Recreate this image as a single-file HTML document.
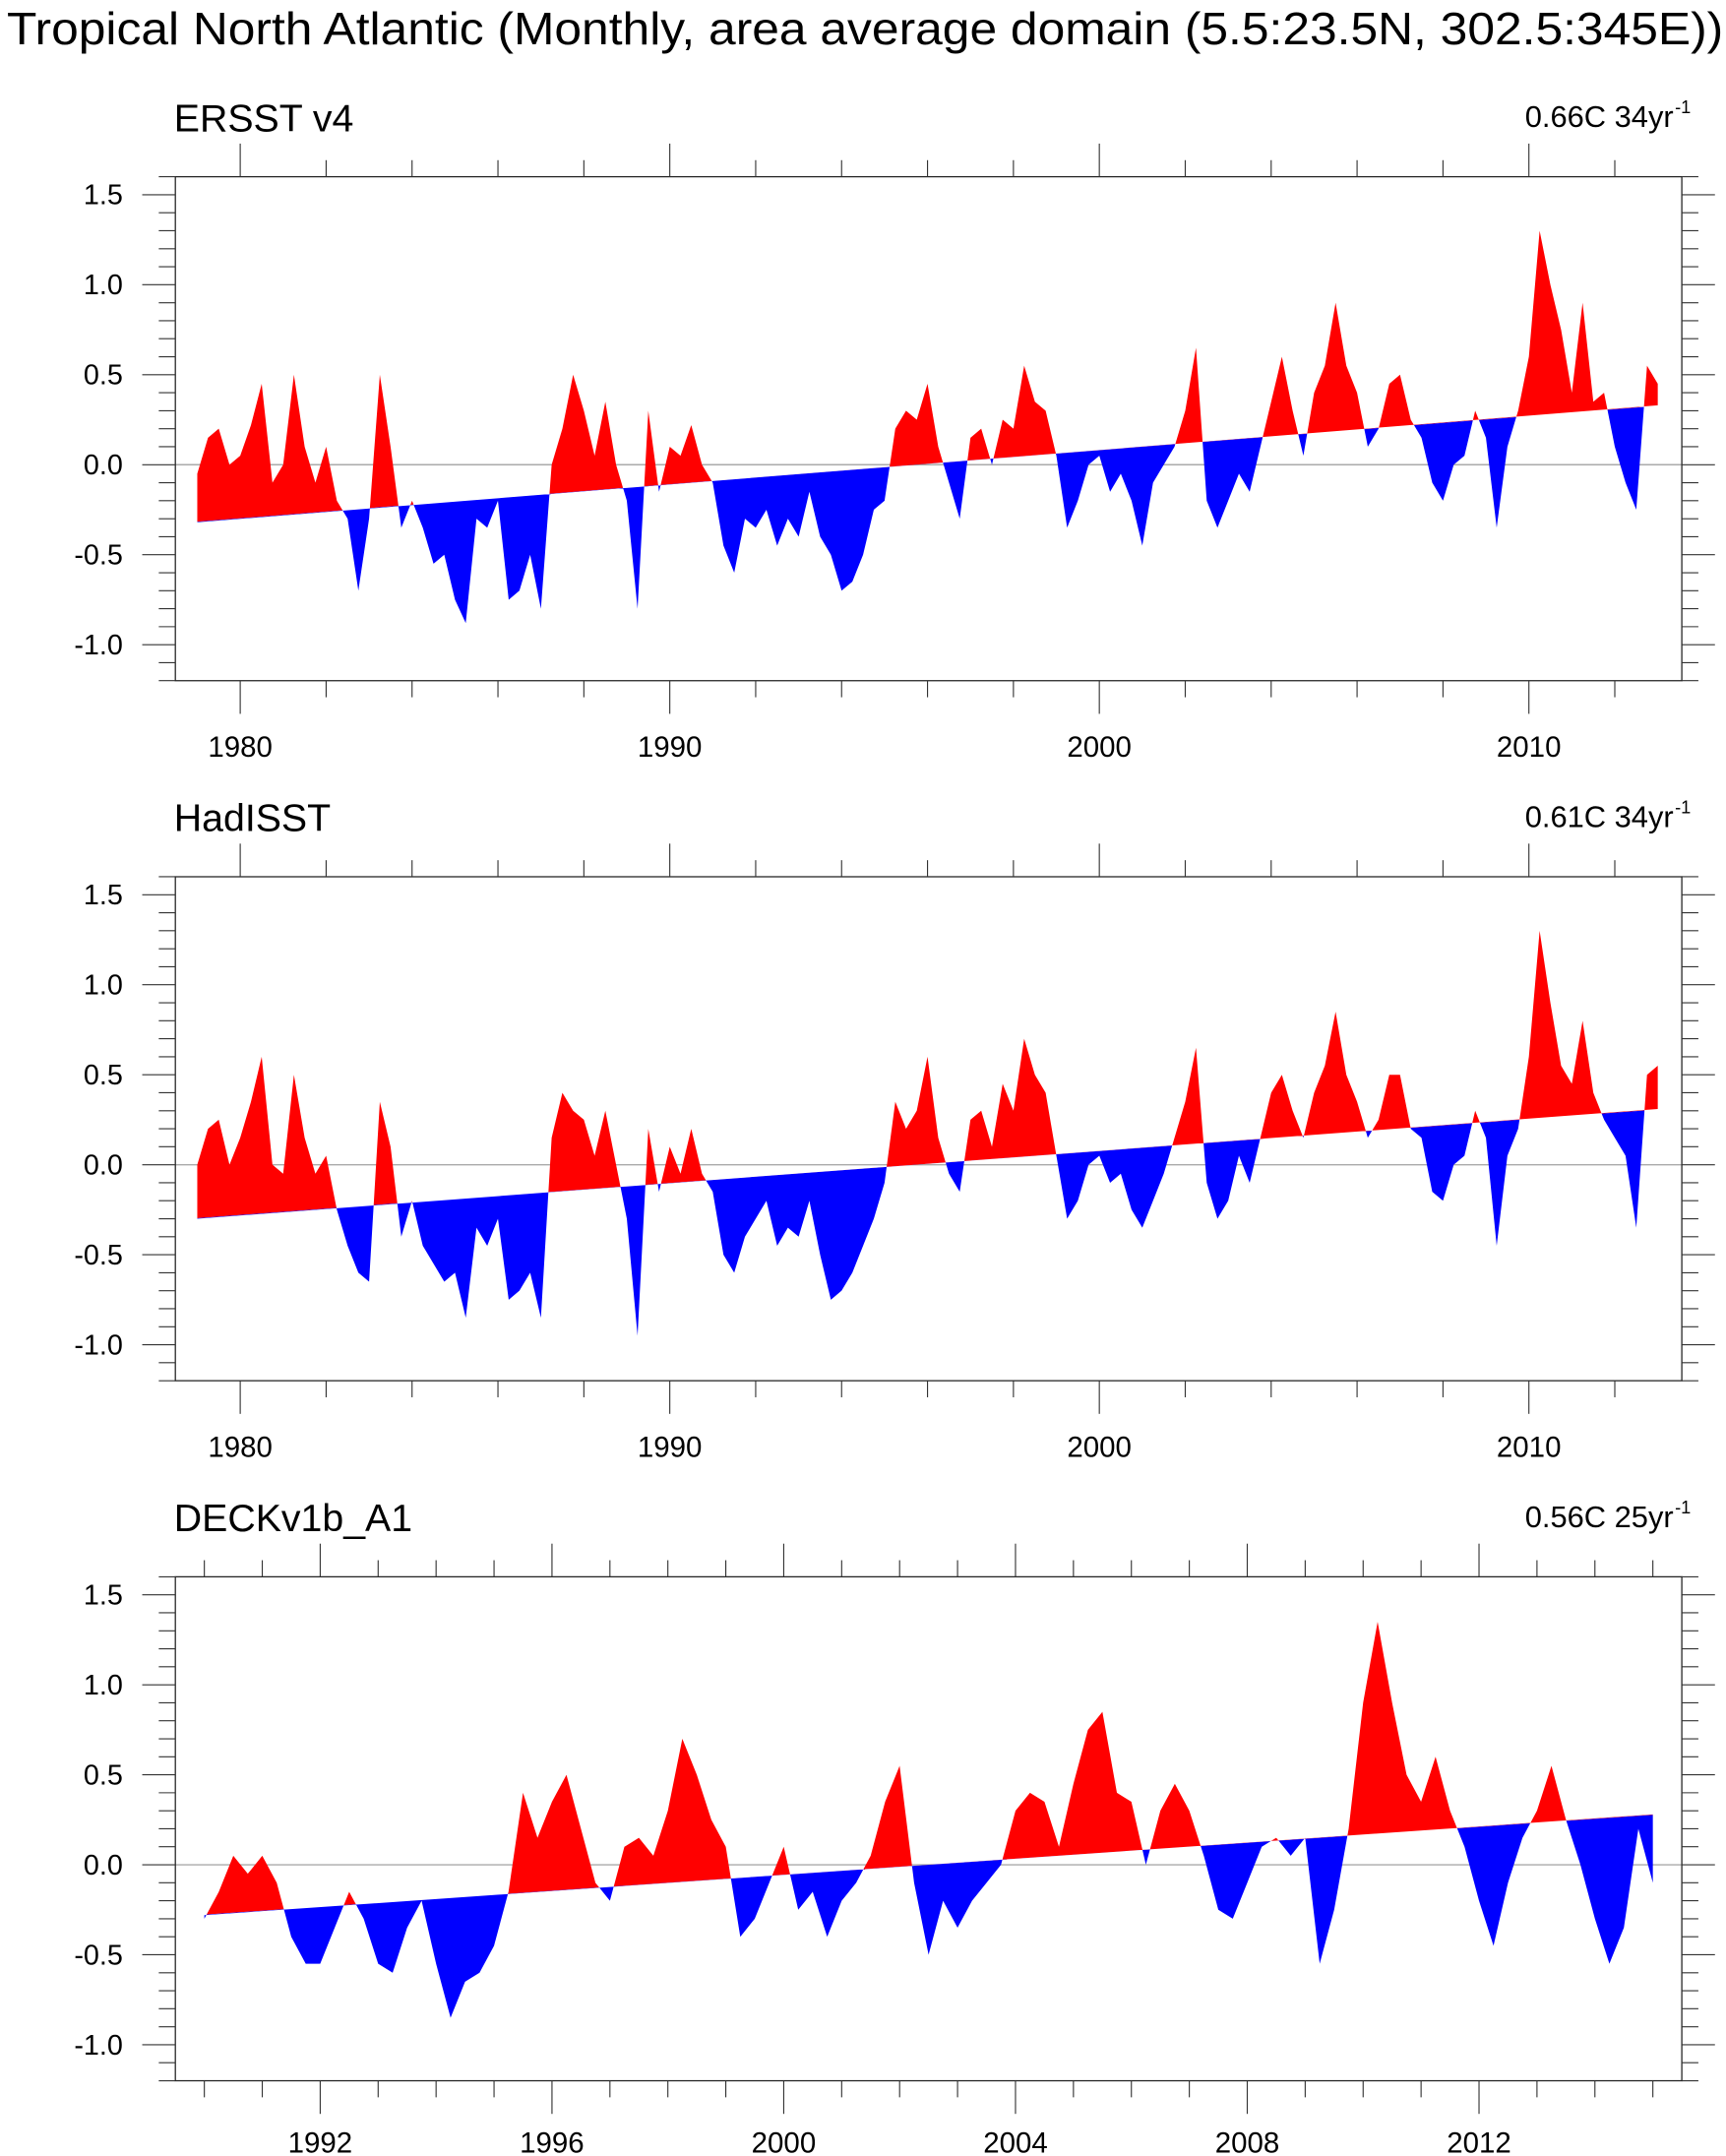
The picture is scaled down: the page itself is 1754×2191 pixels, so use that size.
<!DOCTYPE html>
<html><head><meta charset="utf-8"><style>
html,body{margin:0;padding:0;background:#fff}
svg{display:block}
text{font-family:"Liberation Sans",sans-serif;fill:#000}
</style></head><body>
<svg id="chart" width="1754" height="2191" viewBox="0 0 1250 1561.5" preserveAspectRatio="none" xmlns="http://www.w3.org/2000/svg">
<text x="5" y="32" font-size="33" textLength="1243" lengthAdjust="spacingAndGlyphs">Tropical North Atlantic (Monthly, area average domain (5.5:23.5N, 302.5:345E))</text>
</svg>
<script>
// ---- data (quarterly estimates) ----
const ersstStart = 1979;
const ersstValues = [
-0.05,0.15,0.2,0.0, 0.05,0.22,0.45,-0.1, 0.0,0.5,0.1,-0.1, 0.1,-0.2,-0.3,-0.7,
-0.3,0.5,0.1,-0.35, -0.2,-0.35,-0.55,-0.5, -0.75,-0.88,-0.3,-0.35, -0.2,-0.75,-0.7,-0.5,
-0.8,0.0,0.2,0.5, 0.3,0.05,0.35,0.0, -0.2,-0.8,0.3,-0.15, 0.1,0.05,0.22,0.0,
-0.1,-0.45,-0.6,-0.3, -0.35,-0.25,-0.45,-0.3, -0.4,-0.15,-0.4,-0.5, -0.7,-0.65,-0.5,-0.25,
-0.2,0.2,0.3,0.25, 0.45,0.1,-0.1,-0.3, 0.15,0.2,0.0,0.25, 0.2,0.55,0.35,0.3,
0.05,-0.35,-0.2,0.0, 0.05,-0.15,-0.05,-0.2, -0.45,-0.1,0.0,0.1, 0.3,0.65,-0.2,-0.35,
-0.2,-0.05,-0.15,0.1, 0.35,0.6,0.3,0.05, 0.4,0.55,0.9,0.55, 0.4,0.1,0.2,0.45,
0.5,0.25,0.15,-0.1, -0.2,0.0,0.05,0.3, 0.15,-0.35,0.1,0.3, 0.6,1.3,1.0,0.75,
0.4,0.9,0.35,0.4, 0.1,-0.1,-0.25,0.55, 0.45];
const ersstTrend = [-0.32, 0.33];

const hadStart = 1979;
const hadValues = [
0.0,0.2,0.25,0.0, 0.15,0.35,0.6,0.0, -0.05,0.5,0.15,-0.05, 0.05,-0.25,-0.45,-0.6,
-0.65,0.35,0.1,-0.4, -0.2,-0.45,-0.55,-0.65, -0.6,-0.85,-0.35,-0.45, -0.3,-0.75,-0.7,-0.6,
-0.85,0.15,0.4,0.3, 0.25,0.05,0.3,0.0, -0.3,-0.95,0.2,-0.15, 0.1,-0.05,0.2,-0.05,
-0.15,-0.5,-0.6,-0.4, -0.3,-0.2,-0.45,-0.35, -0.4,-0.2,-0.5,-0.75, -0.7,-0.6,-0.45,-0.3,
-0.1,0.35,0.2,0.3, 0.6,0.15,-0.05,-0.15, 0.25,0.3,0.1,0.45, 0.3,0.7,0.5,0.4,
0.05,-0.3,-0.2,0.0, 0.05,-0.1,-0.05,-0.25, -0.35,-0.2,-0.05,0.15, 0.35,0.65,-0.1,-0.3,
-0.2,0.05,-0.1,0.15, 0.4,0.5,0.3,0.15, 0.4,0.55,0.85,0.5, 0.35,0.15,0.25,0.5,
0.5,0.2,0.15,-0.15, -0.2,0.0,0.05,0.3, 0.15,-0.45,0.05,0.2, 0.6,1.3,0.9,0.55,
0.45,0.8,0.4,0.25, 0.15,0.05,-0.35,0.5, 0.55];
const hadTrend = [-0.30, 0.31];

const deckStart = 1990;
const deckValues = [
-0.3,-0.15,0.05,-0.05, 0.05,-0.1,-0.4,-0.55, -0.55,-0.35,-0.15,-0.3, -0.55,-0.6,-0.35,-0.2,
-0.55,-0.85,-0.65,-0.6, -0.45,-0.15,0.4,0.15, 0.35,0.5,0.2,-0.1, -0.2,0.1,0.15,0.05,
0.3,0.7,0.5,0.25, 0.1,-0.4,-0.3,-0.1, 0.1,-0.25,-0.15,-0.4, -0.2,-0.1,0.05,0.35,
0.55,-0.1,-0.5,-0.2, -0.35,-0.2,-0.1,0.0, 0.3,0.4,0.35,0.1, 0.45,0.75,0.85,0.4,
0.35,0.0,0.3,0.45, 0.3,0.05,-0.25,-0.3, -0.1,0.1,0.15,0.05, 0.15,-0.55,-0.25,0.2,
0.9,1.35,0.9,0.5, 0.35,0.6,0.3,0.1, -0.2,-0.45,-0.1,0.15, 0.3,0.55,0.25,0.0,
-0.3,-0.55,-0.35,0.2, -0.1];
const deckTrend = [-0.28, 0.28];

const yTickValues = [-1.0,-0.5,0.0,0.5,1.0,1.5];
const yTickLabels = ["-1.0","-0.5","0.0","0.5","1.0","1.5"];
const p12XLabels = [1980,1990,2000,2010];
const p3XLabels = [1992,1996,2000,2004,2008,2012];

const panels = [
 {id:'ersst',title:'ERSST v4',trendTxt:'0.66C 34yr',values:ersstValues,start:ersstStart,trend:ersstTrend,
  top:128,xmin:1978.49,xmax:2013.56,majors:p12XLabels,minorFrom:1980,minorTo:2012,minorStep:2,lab:55},
 {id:'hadisst',title:'HadISST',trendTxt:'0.61C 34yr',values:hadValues,start:hadStart,trend:hadTrend,
  top:635,xmin:1978.49,xmax:2013.56,majors:p12XLabels,minorFrom:1980,minorTo:2012,minorStep:2,lab:55},
 {id:'deck',title:'DECKv1b_A1',trendTxt:'0.56C 25yr',values:deckValues,start:deckStart,trend:deckTrend,
  top:1142,xmin:1989.5,xmax:2015.5,majors:p3XLabels,minorFrom:1990,minorTo:2015,minorStep:1,lab:52}
];

const NS='http://www.w3.org/2000/svg';
const svg=document.getElementById('chart');
function mk(tag,attrs,parent){const e=document.createElementNS(NS,tag);for(const k in attrs)e.setAttribute(k,attrs[k]);(parent||svg).appendChild(e);return e;}
const L=127,R=1218,H=365,YMIN=-1.2,YMAX=1.6,STEP=0.25;

panels.forEach(p=>{
  const g=mk('g',{});
  
  
  const X=t=>L+(t-p.xmin)/(p.xmax-p.xmin)*(R-L);
  const Y=v=>p.top+(YMAX-v)/(YMAX-YMIN)*H;
  const n=p.values.length;
  const t0=p.start,t1=p.start+(n-1)*STEP;
  const tr=t=>p.trend[0]+(p.trend[1]-p.trend[0])*(t-t0)/(t1-t0);
  const defs=mk('defs',{},g);
  const ca=mk('clipPath',{id:p.id+'-above'},defs);
  mk('polygon',{points:`${X(t0)-5},${Y(tr(t0))} ${X(t1)+5},${Y(tr(t1))} ${X(t1)+5},${p.top-50} ${X(t0)-5},${p.top-50}`},ca);
  const cb=mk('clipPath',{id:p.id+'-below'},defs);
  mk('polygon',{points:`${X(t0)-5},${Y(tr(t0))} ${X(t1)+5},${Y(tr(t1))} ${X(t1)+5},${p.top+H+50} ${X(t0)-5},${p.top+H+50}`},cb);
  let d='';
  p.values.forEach((v,i)=>{const t=t0+i*STEP;d+=(i?'L':'M')+X(t).toFixed(2)+','+Y(v).toFixed(2);});
  d+='L'+X(t1).toFixed(2)+','+Y(tr(t1)).toFixed(2)+'L'+X(t0).toFixed(2)+','+Y(tr(t0)).toFixed(2)+'Z';
  const z=mk('line',{x1:L,x2:R,y1:Y(0),y2:Y(0),stroke:'#aaa','stroke-width':1},g);
  
  
  const red=mk('path',{d:d,fill:'#ff0000','clip-path':`url(#${p.id}-above)`},g);
  
  
  const blue=mk('path',{d:d,fill:'#0000ff','clip-path':`url(#${p.id}-below)`},g);
  
  
  const fr=mk('rect',{x:L,y:p.top,width:R-L,height:H,fill:'none',stroke:'#222','stroke-width':0.9},g);
  
  
  for(let k=-12;k<=16;k++){
    const v=k/10,y=Y(v),maj=(k%5===0);
    const len=maj?24:12;
    mk('line',{x1:L-len,x2:L,y1:y,y2:y,stroke:'#333','stroke-width':0.8},g);
    mk('line',{x1:R,x2:R+len,y1:y,y2:y,stroke:'#333','stroke-width':0.8},g);
  }
  yTickValues.forEach((v,i)=>{
    const t=mk('text',{x:89,y:Y(v)+7,'font-size':20.5,'text-anchor':'end'},g);
    
    
    t.textContent=yTickLabels[i];
  });
  for(let yr=p.minorFrom;yr<=p.minorTo;yr+=p.minorStep){
    const x=X(yr),maj=p.majors.includes(yr),len=maj?24:12;
    mk('line',{x1:x,x2:x,y1:p.top+H,y2:p.top+H+len,stroke:'#333','stroke-width':0.8},g);
    mk('line',{x1:x,x2:x,y1:p.top-len,y2:p.top,stroke:'#333','stroke-width':0.8},g);
  }
  p.majors.forEach(yr=>{
    const t=mk('text',{x:X(yr),y:p.top+H+p.lab,'font-size':21,'text-anchor':'middle'},g);
    
    
    t.textContent=yr;
  });
  const st=mk('text',{x:126,y:p.top-33,'font-size':28},g);
  
  
  st.textContent=p.title;
  const tt=mk('text',{x:1212,y:p.top-36,'font-size':22,'text-anchor':'end'},g);
  
  
  tt.textContent=p.trendTxt;
  const sup=mk('text',{x:1213,y:p.top-46,'font-size':13,'text-anchor':'start'},g);
  
  
  sup.textContent='-1';
});
</script>
</body></html>
